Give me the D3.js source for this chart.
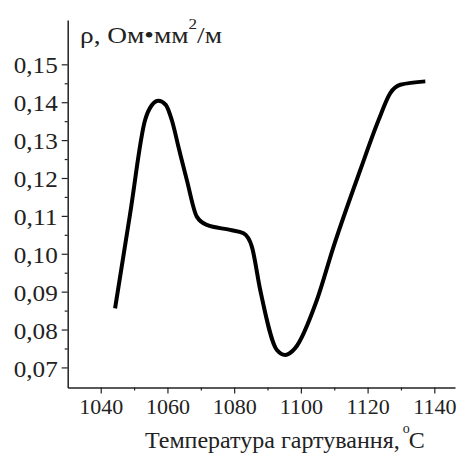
<!DOCTYPE html>
<html><head><meta charset="utf-8">
<script src="https://cdn.jsdelivr.net/npm/d3@7"></script>
<style>body{margin:0;background:#fff}svg{display:block}text{font-family:"Liberation Serif","Times New Roman",serif;fill:#222}</style>
</head><body>
<svg id="c" width="457" height="453"></svg>
<script>
const temps = [1044.3,1048.8,1053.3,1055.3,1057.3,1059.5,1061.3,1063.5,1065.8,1068.8,1071.8,1078.8,1082.8,1085.3,1087.8,1092.8,1095.3,1098.3,1104.8,1109.8,1117.8,1123.3,1126.8,1129.8,1137.3];
const rho   = [0.0856,0.1105,0.1353,0.1392,0.1404,0.1393,0.1353,0.1275,0.1195,0.1098,0.1076,0.1063,0.1054,0.1019,0.0905,0.0746,0.0733,0.0751,0.0878,0.1019,0.1221,0.1353,0.1424,0.1446,0.1455];
const xTicks = [1040,1060,1080,1100,1120,1140];
const xMinor = [1050,1070,1090,1110,1130];
const yTicks = [0.07,0.08,0.09,0.10,0.11,0.12,0.13,0.14,0.15];
const yMinor = [0.075,0.085,0.095,0.105,0.115,0.125,0.135,0.145];

const svg = d3.select("#c");
const x = d3.scaleLinear().domain([1030.1,1146.2]).range([67.7,455]);
const y = d3.scaleLinear().domain([0.0647,0.1617]).range([387.5,20]);
const fmt = d => d3.format(".2f")(d).replace(".", ",");

const gx = svg.append("g").attr("transform",`translate(0,${y.range()[0]})`);
gx.call(d3.axisBottom(x).tickValues(xTicks).tickSize(6).tickSizeOuter(0).tickFormat(d3.format("d")).tickPadding(5));
gx.append("g").call(d3.axisBottom(x).tickValues(xMinor).tickSize(3).tickFormat(""));
const gy = svg.append("g").attr("transform",`translate(${x.range()[0]},0)`);
gy.call(d3.axisLeft(y).tickValues(yTicks).tickSize(6).tickSizeOuter(0).tickFormat(fmt).tickPadding(4));
gy.append("g").call(d3.axisLeft(y).tickValues(yMinor).tickSize(3).tickFormat(""));
svg.selectAll(".domain").attr("stroke","#222").attr("stroke-width",1.5);
svg.selectAll(".tick line").attr("stroke","#222").attr("stroke-width",1.2);
gx.selectAll(".tick text").style("font-size","22px").attr("fill","#222");
gy.selectAll(".tick text").style("font-size","24px").attr("fill","#222").attr("dy","0.36em")
  .attr("textLength",44).attr("lengthAdjust","spacingAndGlyphs");
gy.selectAll("g").selectAll(".domain").remove();
gx.selectAll("g").selectAll(".domain").remove();

const line = d3.line().x((d,i)=>x(temps[i])).y(d=>y(d)).curve(d3.curveMonotoneX);
svg.append("path").attr("d", line(rho)).attr("fill","none").attr("stroke","#000").attr("stroke-width",4).attr("stroke-linejoin","round");

const t = svg.append("text").attr("x",80).attr("y",43).style("font-size","24px")
  .attr("textLength",142).attr("lengthAdjust","spacingAndGlyphs");
t.append("tspan").text("ρ, Ом•мм");
t.append("tspan").attr("dy",-14).style("font-size","15px").text("2");
t.append("tspan").attr("dy",14).text("/м");

const xl = svg.append("text").attr("x",145).attr("y",448).style("font-size","24px");
xl.append("tspan").text("Температура гартування,");
xl.append("tspan").attr("dy",-15).attr("dx",3).style("font-size","14px").text("o");
xl.append("tspan").attr("dy",15).attr("dx",-1).text("C");
</script>
</body></html>
